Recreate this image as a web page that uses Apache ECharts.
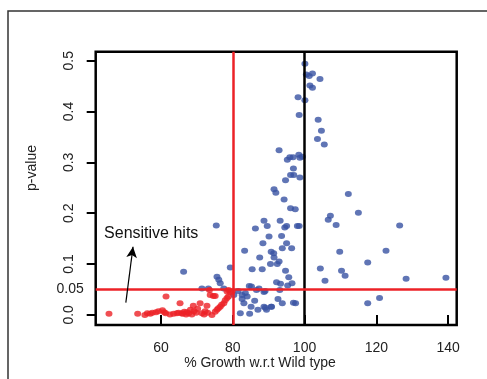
<!DOCTYPE html>
<html><head><meta charset="utf-8">
<script src="https://cdn.jsdelivr.net/npm/echarts@6/dist/echarts.min.js"></script>
<style>html,body{margin:0;padding:0;background:#fff}#c{width:487px;height:379px}</style>
</head><body><div id="c"></div>
<script>
const xTicks = [60, 80, 100, 120, 140];
const yTicks = [0, 0.1, 0.2, 0.3, 0.4, 0.5];
const thresholdP = 0.05;
const thresholdGrowth = 80;
const wildType = 100;
const xTitle = '% Growth w.r.t Wild type';
const yTitle = 'p-value';

const redGrowth = [45.5,53.5,55.5,56.2,57.0,57.6,58.6,59.3,60.4,60.9,61.3,62.5,61.4,63.5,64.4,65.3,65.8,66.5,67.0,67.2,67.7,68.2,68.6,69.0,69.2,69.8,70.9,71.4,72.0,72.3,72.8,73.5,73.7,74.2,74.6,75.1,75.1,75.6,76.0,76.5,76.9,77.5,77.9,78.4,78.8,78.4,78.8,79.3,79.8,73.0,70.2,66.0,64.9];
const redP = [0.002,0.002,0.000,0.003,0.002,0.004,0.005,0.007,0.009,0.005,0.003,0.001,0.036,0.002,0.003,0.023,0.003,0.006,0.001,0.005,0.003,0.010,0.001,0.018,0.007,0.004,0.023,0.003,0.001,0.007,0.018,0.049,0.039,0.000,0.037,0.037,0.006,0.010,0.013,0.016,0.020,0.023,0.029,0.033,0.036,0.046,0.049,0.044,0.046,0.004,0.012,0.002,0.004];

const blueGrowth = [100.1,100.5,101.3,102.2,104.3,101.5,102.2,98.2,100.1,98.5,103.8,104.7,103.6,105.5,92.9,95.2,95.9,96.8,98.4,98.7,99.4,96.9,96.1,97.0,94.7,98.7,91.5,92.0,94.3,96.1,97.4,112.2,115.0,107.2,106.6,108.8,126.5,122.7,109.8,117.6,104.4,110.3,111.3,105.7,128.3,139.4,117.6,120.9,75.4,66.3,75.6,76.1,76.5,79.3,71.4,73.2,77.5,88.7,93.2,86.3,89.6,95.0,94.5,98.0,98.5,90.1,93.6,88.4,95.0,93.8,96.4,83.3,90.7,91.4,87.5,91.5,90.5,92.4,92.9,85.4,88.2,94.7,95.6,92.2,93.3,95.3,96.5,85.2,87.3,86.6,88.7,80.3,82.6,83.5,82.6,83.1,86.1,85.1,87.0,88.7,89.4,90.7,92.6,93.8,96.9,97.5,82.1,84.7,93.1,81.5,84.0,89.0,90.8,89.1,84.6];
const blueP = [0.494,0.473,0.470,0.475,0.464,0.451,0.447,0.428,0.422,0.393,0.384,0.362,0.346,0.335,0.324,0.305,0.310,0.310,0.315,0.309,0.311,0.288,0.275,0.275,0.265,0.270,0.247,0.240,0.227,0.210,0.208,0.238,0.201,0.195,0.187,0.177,0.176,0.126,0.124,0.103,0.091,0.087,0.077,0.067,0.071,0.073,0.023,0.033,0.176,0.085,0.075,0.069,0.062,0.093,0.052,0.052,0.052,0.185,0.185,0.170,0.175,0.175,0.172,0.175,0.175,0.154,0.155,0.141,0.141,0.131,0.131,0.126,0.124,0.121,0.113,0.113,0.100,0.100,0.105,0.090,0.090,0.087,0.074,0.064,0.061,0.058,0.062,0.056,0.052,0.049,0.045,0.039,0.039,0.043,0.031,0.023,0.028,0.016,0.010,0.016,0.010,0.016,0.031,0.023,0.024,0.023,0.003,0.002,0.049,0.047,0.036,0.047,0.016,0.014,0.057];

const arrowFrom = [50.2, 0.024];
const arrowTo = [52.2, 0.134];
const annotationText = 'Sensitive hits';
const annotationAt = [44.0, 0.159];

const zip = (a, b) => a.map((v, i) => [v, b[i]]);
const FONT = '"Liberation Sans", Arial, sans-serif';

const chart = echarts.init(document.getElementById('c'), null, {renderer: 'canvas'});
chart.setOption({
  animation: false,
  backgroundColor: '#fff',
  grid: {left: 95.7, right: 30.3, top: 51.7, bottom: 54, show: true, borderColor: '#000', borderWidth: 2.5,
         backgroundColor: 'transparent', containLabel: false, outerBoundsMode: 'none'},
  xAxis: {
    type: 'value', min: 41.8, max: 142.4,
    axisLine: {show: false},
    axisTick: {show: true, length: 9, lineStyle: {color: '#000', width: 2}, customValues: xTicks},
    axisLabel: {customValues: xTicks, margin: 16, fontFamily: FONT, fontSize: 14, color: '#222'},
    splitLine: {show: false}
  },
  yAxis: {
    type: 'value', min: -0.0199, max: 0.5177,
    axisLine: {show: false},
    axisTick: {show: true, length: 9, lineStyle: {color: '#000', width: 2}, customValues: yTicks},
    axisLabel: {customValues: yTicks, rotate: 90, margin: 20, fontFamily: FONT, fontSize: 14, color: '#222', formatter: v => v.toFixed(1)},
    splitLine: {show: false}
  },
  series: [
    {
      type: 'scatter', name: 'other', data: zip(blueGrowth, blueP),
      symbol: 'circle', symbolSize: [7, 6], itemStyle: {color: '#3853a3'}, z: 3
    },
    {
      type: 'scatter', name: 'sensitive', data: zip(redGrowth, redP),
      symbol: 'circle', symbolSize: [7, 6], itemStyle: {color: '#ec2227'}, z: 3,
      markLine: {
        silent: true, symbol: 'none', animation: false,
        data: [
          {xAxis: thresholdGrowth, lineStyle: {color: '#ec2227', width: 2.5, type: 'solid'}, label: {show: false}},
          {xAxis: wildType, lineStyle: {color: '#000', width: 2.5, type: 'solid'}, label: {show: false}},
          {yAxis: thresholdP, lineStyle: {color: '#ec2227', width: 2.5, type: 'solid'},
           label: {show: true, position: 'start', formatter: '0.05', distance: 12, fontFamily: FONT, fontSize: 14, color: '#222'}},
          [{coord: arrowFrom, symbol: 'none'}, {coord: arrowTo, symbol: 'arrow', symbolSize: [8, 11], lineStyle: {color: '#000', width: 1.2, type: 'solid'}, label: {show: false}}]
        ]
      },
      markPoint: {
        silent: true, symbol: 'rect', symbolSize: 1, itemStyle: {color: 'transparent'},
        data: [{coord: annotationAt, label: {show: true, position: 'right', distance: 0, formatter: annotationText, fontFamily: FONT, fontSize: 16, color: '#111'}}]
      }
    }
  ],
  graphic: [
    {type: 'polyline', shape: {points: [[8, 379], [8, 11], [487, 11]]}, style: {stroke: '#333', lineWidth: 1.5, fill: null}, silent: true},
    {type: 'text', x: 260, y: 363, style: {text: xTitle, font: '14px ' + FONT, fill: '#222', align: 'center', verticalAlign: 'middle'}, silent: true},
    {type: 'text', x: 32, y: 168, rotation: Math.PI / 2, style: {text: yTitle, font: '14px ' + FONT, fill: '#222', align: 'center', verticalAlign: 'middle'}, silent: true}
  ]
});
</script></body></html>
